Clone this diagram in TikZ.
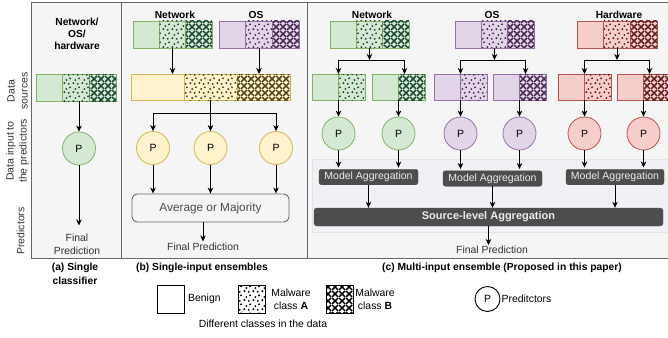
\documentclass[tikz,border=0pt]{standalone}
\usepackage{fontspec}
\setmainfont{Liberation Sans}
\usetikzlibrary{arrows.meta,patterns.meta,calc}

\definecolor{gF}{HTML}{D5E8D4}\definecolor{gS}{HTML}{82B366}\definecolor{gP}{HTML}{1E4A33}
\definecolor{pF}{HTML}{E1D5E7}\definecolor{pS}{HTML}{9673A6}\definecolor{pP}{HTML}{4A2A55}
\definecolor{rF}{HTML}{F8CECC}\definecolor{rS}{HTML}{B85450}\definecolor{rP}{HTML}{632020}
\definecolor{yF}{HTML}{FFF2CC}\definecolor{yS}{HTML}{D6B656}\definecolor{yP}{HTML}{52471A}
\definecolor{panelF}{HTML}{F5F5F5}\definecolor{panelS}{HTML}{666666}
\definecolor{aggF}{HTML}{4D4D4D}\definecolor{txtC}{HTML}{333333}
\definecolor{faintF}{HTML}{F0F1F5}\definecolor{faintS}{HTML}{E2E4EC}

\tikzdeclarepattern{
  name=mydots, type=uncolored,
  bottom left={(0pt,0pt)}, top right={(9pt,9pt)}, tile size={(9pt,9pt)},
  code={
    \fill (1.5pt,2.0pt) circle (1.15pt);
    \fill (6.2pt,1.2pt) circle (1.15pt);
    \fill (3.6pt,5.4pt) circle (1.15pt);
    \fill (7.6pt,7.2pt) circle (1.15pt);
  }
}
\tikzdeclarepattern{
  name=myhatch, type=uncolored,
  bottom left={(0pt,0pt)}, top right={(6.5pt,6.5pt)}, tile size={(6.5pt,6.5pt)},
  code={
    \draw[line width=1.6pt] (0pt,0pt) -- (6.5pt,6.5pt) (0pt,6.5pt) -- (6.5pt,0pt);
  }
}

\tikzset{
  segbase/.style={line width=0.8pt, inner sep=0pt, outer sep=0pt, anchor=north west},
  plainseg/.style={segbase, fill=#1F, draw=#1S},
  dotseg/.style={segbase, fill=#1F, draw=#1S, postaction={pattern=mydots, pattern color=#1P}},
  hatchseg/.style={segbase, fill=#1F, draw=#1S, postaction={pattern=myhatch, pattern color=#1P}},
  pcirc/.style={circle, line width=0.8pt, minimum size=33pt, inner sep=0pt, fill=#1F, draw=#1S,
    font=\fontsize{10.5}{12}\selectfont},
  arr/.style={-{Stealth[length=6pt,width=5.5pt,inset=1.8pt]}, line width=1pt, black},
  panelbox/.style={draw=panelS, fill=panelF, line width=1pt},
  txtstyle/.style={font=\fontsize{10.4}{13}\selectfont, text=txtC, align=center, inner sep=1pt},
  ttlstyle/.style={font=\bfseries\fontsize{10.2}{12}\selectfont, align=center, inner sep=1pt},
  captxt/.style={font=\bfseries\fontsize{10.3}{14}\selectfont, align=center, inner sep=1pt},
  rowlab/.style={font=\fontsize{10.5}{13}\selectfont, text=txtC, align=center, rotate=90, inner sep=1pt},
  aggbox/.style={fill=aggF, draw=aggF, rounded corners=2.5pt, text=white!92!black, inner sep=0pt,
    font=\fontsize{10.5}{12}\selectfont},
  legsq/.style={draw=black, fill=white, line width=0.9pt, minimum width=27pt, minimum height=28pt, inner sep=0pt},
}

% three-segment data bar: name, position, colour prefix, segment width, height
\newcommand\tribar[5]{%
  \node[plainseg=#3, minimum width=#4, minimum height=#5] (#1a) at (#2) {};
  \node[dotseg=#3, minimum width=#4, minimum height=#5] (#1b) at (#1a.north east) {};
  \node[hatchseg=#3, minimum width=#4, minimum height=#5] (#1c) at (#1b.north east) {};
}
% two-segment data bar: name, position, colour prefix, pattern style (dotseg/hatchseg)
\newcommand\duobar[4]{%
  \node[plainseg=#3, minimum width=26.5pt, minimum height=26pt] (#1a) at (#2) {};
  \node[#4=#3, minimum width=26.5pt, minimum height=26pt] (#1b) at (#1a.north east) {};
}

\begin{document}
\begin{tikzpicture}[x=1pt,y=-1pt]
\useasboundingbox (0,0) rectangle (668,337);

% panels
\draw[panelbox] (31,3) rectangle (121,258);
\draw[panelbox] (121,3) rectangle (307,258);
\draw[panelbox] (307,3) rectangle (672,258);

% row labels
\node[rowlab] (l1) at (17.5,91) {Data\\sources};
\node[rowlab] (l2) at (17.5,151) {Data input to\\the predictors};
\node[rowlab] (l3) at (20.5,231) {Predictors};

% ---------------- (a) single classifier
\node[ttlstyle] (ta) at (77,34) {Network/\\OS/\\hardware};
\tribar{ab}{36,74}{g}{26.67pt}{27pt}
\node[pcirc=g] (pa) at (79,148.5) {P};
\node[txtstyle] (fa) at (77,244) {Final\\Prediction};
\draw[arr] (pa.north |- abb.south) -- (pa.north);
\draw[arr] (pa.south) -- ($(pa.south |- fa.north)+(0,-7)$);

% ---------------- (b) single-input ensembles
\node[ttlstyle] (tbn) at (175,15) {Network};
\node[ttlstyle] (tbo) at (256,15) {OS};
\tribar{bn}{133,21}{g}{26.33pt}{27pt}
\tribar{bo}{219,21}{p}{26.67pt}{27pt}
\tribar{by}{131,74}{y}{53pt}{26pt}
\draw[arr] (bnb.south) -- (bnb.south |- bya.north);
\draw[arr] (bob.south) -- (bob.south |- bya.north);
\node[pcirc=y] (y1) at (153,148) {P};
\node[pcirc=y] (y2) at (210.5,148) {P};
\node[pcirc=y] (y3) at (276,148) {P};
\draw[line width=1pt] (byb.south) -- ++(0,13) coordinate (byf);
\draw[arr] (byf) -| (y1.north);
\draw[arr] (byf) -- (y2.north);
\draw[arr] (byf) -| (y3.north);
\node[draw=panelS, fill=panelF, line width=0.9pt, rounded corners=5pt, minimum width=157pt,
  minimum height=28pt, text=aggF, font=\fontsize{11.8}{13}\selectfont] (avg) at (210.5,208) {Average or Majority};
\foreach \c in {y1,y2,y3} \draw[arr] (\c.south) -- (\c.south |- avg.north);
\node[txtstyle] (fpb) at (203,246.5) {Final Prediction};
\draw[arr] (fpb.north |- avg.south) -- (fpb.north);

% ---------------- (c) multi-input ensemble
\draw[draw=faintS, fill=faintF, line width=0.6pt] (312,159) rectangle (672,232);
\node[ttlstyle] (tcn) at (372,15) {Network};
\node[ttlstyle] (tco) at (492,15) {OS};
\node[ttlstyle] (tch) at (619,15) {Hardware};
\tribar{cn}{330,21}{g}{26.33pt}{27pt}
\tribar{co}{455,21}{p}{26.33pt}{27pt}
\tribar{ch}{577,21}{r}{26.67pt}{27pt}
\duobar{cna}{312,74}{g}{dotseg}
\duobar{cnc}{372,74}{g}{hatchseg}
\duobar{coa}{434,74}{p}{dotseg}
\duobar{coc}{493,74}{p}{hatchseg}
\duobar{cha}{558,74}{r}{dotseg}
\duobar{chc}{617,74}{r}{hatchseg}

\foreach \s/\l/\r in {cn/cna/cnc, co/coa/coc, ch/cha/chc}{
  \draw[arr] (\s b.south) -- ++(0,12) coordinate (\s f);
  \draw[arr] (\s f) -| (\l a.north east);
  \draw[arr] (\s f) -| ([xshift=6pt]\r a.north east);
}

\node[pcirc=g] (c1) at (338.5,133.5) {P};
\node[pcirc=g] (c2) at (398.5,133.5) {P};
\node[pcirc=p] (c3) at (460.5,133.5) {P};
\node[pcirc=p] (c4) at (519.5,133.5) {P};
\node[pcirc=r] (c5) at (584.5,133.5) {P};
\node[pcirc=r] (c6) at (643.5,133.5) {P};
\draw[arr] (cnaa.south east) -- (c1.north);
\draw[arr] (cnca.south east) -- (c2.north);
\draw[arr] (coaa.south east) -- (c3.north);
\draw[arr] (coca.south east) -- (c4.north);
\draw[arr] (chaa.south east) -- (c5.north);
\draw[arr] (chca.south east) -- (c6.north);

\node[aggbox, minimum width=99pt, minimum height=15.5pt] (m1) at (368.5,177) {Model Aggregation};
\node[aggbox, minimum width=99pt, minimum height=15.5pt] (m2) at (492.5,178.5) {Model Aggregation};
\node[aggbox, minimum width=98pt, minimum height=15.5pt] (m3) at (615,177) {Model Aggregation};
\draw[arr, shorten >=1.5pt] (c1.south) -- (c1.south |- m1.north);
\draw[arr, shorten >=1.5pt] (c2.south) -- (c2.south |- m1.north);
\draw[arr, shorten >=1.5pt] (c3.south) -- (c3.south |- m2.north);
\draw[arr, shorten >=1.5pt] (c4.south) -- (c4.south |- m2.north);
\draw[arr, shorten >=1.5pt] (c5.south) -- (c5.south |- m3.north);
\draw[arr, shorten >=1.5pt] (c6.south) -- (c6.south |- m3.north);

\node[aggbox, rounded corners=3pt, minimum width=349pt, minimum height=18pt,
  font=\bfseries\fontsize{11}{12}\selectfont] (src) at (488.5,217) {Source-level Aggregation};
\draw[arr] (m1.south) -- (m1.south |- src.north);
\draw[arr] (m2.south) -- (m2.south |- src.north);
\draw[arr] (m3.south) -- (m3.south |- src.north);
\node[txtstyle] (fpc) at (492,250) {Final Prediction};
\draw[arr] (src.south) -- (src.south |- fpc.north);

% captions
\node[captxt] (capa) at (75,274) {(a) Single\\classifier};
\node[captxt] (capb) at (202,268) {(b) Single-input ensembles};
\node[captxt] (capc) at (502,268) {(c) Multi-input ensemble (Proposed in this paper)};

% legend
\node[legsq] (lgb) at (170.5,299) {};
\node[txtstyle, anchor=west, text=black] (lgbt) at (187,299) {Benign};
\node[legsq, postaction={pattern=mydots, pattern color=black}] (lga) at (252,299) {};
\node[txtstyle, text=black] (lgat) at (291,299) {Malware\\class \textbf{A}};
\node[legsq, postaction={pattern=myhatch, pattern color=black}] (lgc) at (340,299) {};
\node[txtstyle, text=black] (lgct) at (375,299) {Malware\\class \textbf{B}};
\node[txtstyle, text=black] (lgd) at (263,323.5) {Different classes in the data};
\node[circle, draw=black, fill=white, line width=0.9pt, minimum size=25pt, inner sep=0pt,
  font=\fontsize{10.5}{12}\selectfont] (lgp) at (487.5,299) {P};
\node[txtstyle, anchor=west, text=black] (lgpt) at (500.5,299) {Preditctors};
\end{tikzpicture}
\end{document}
